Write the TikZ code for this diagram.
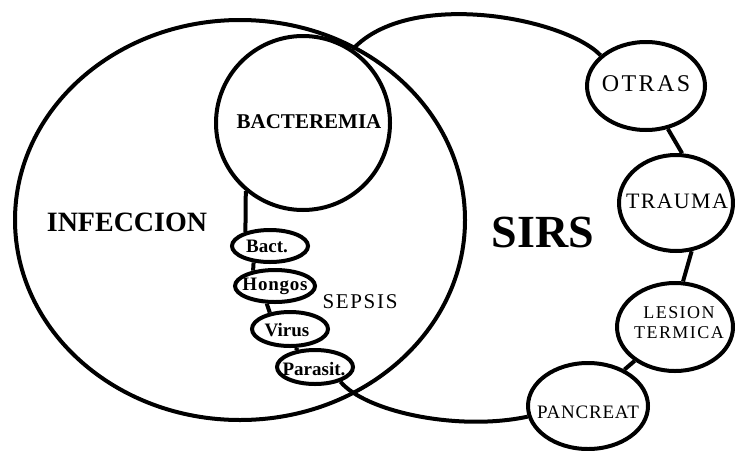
\documentclass[tikz,border=0pt]{standalone}
\usepackage{fontspec}
\setmainfont{Liberation Serif}
\newfontfamily\spcA[LetterSpace=6]{Liberation Serif}
\newfontfamily\spcB[LetterSpace=4]{Liberation Serif}
\newfontfamily\spcC[LetterSpace=8]{Liberation Serif}
\newfontfamily\spcD[LetterSpace=10]{Liberation Serif}
\newfontfamily\spcE[LetterSpace=8]{Liberation Serif}
\usetikzlibrary{shapes.geometric}
\tikzset{
  ln/.style={line width=4pt},
  oval/.style={draw, ellipse, line width=4pt, inner sep=0pt},
  smalllbl/.style={font=\bfseries\fontsize{19}{19}\selectfont, inner sep=0pt},
}
\begin{document}
\begin{tikzpicture}[x=1pt,y=-1pt]
\useasboundingbox (0,0) rectangle (735,450);
% INFECCION
\node[oval, minimum width=450pt, minimum height=400pt] (inf) at (240,220) {};
\node[font=\bfseries\fontsize{28}{28}\selectfont] (infT) at (127,222) {INFECCION};
% BACTEREMIA
\node[draw, circle, ln, minimum size=174pt, inner sep=0pt] (bac) at (303,123) {};
\node[font=\bfseries\fontsize{21}{21}\selectfont] (bacT) at (309,122) {BACTEREMIA};
% sepsis chain
\node[oval, minimum width=76pt, minimum height=32pt] (b1) at (270,246) {};
\node[smalllbl] (b1T) at (267,246) {Bact.};
\node[oval, minimum width=80pt, minimum height=32pt] (b2) at (275,286) {};
\node[smalllbl, font=\spcB\bfseries\fontsize{19}{19}\selectfont] (b2T) at (275,286) {Hongos};
\node[oval, minimum width=76pt, minimum height=34pt] (b3) at (290,329) {};
\node[smalllbl] (b3T) at (287,330) {Virus};
\node[oval, minimum width=76pt, minimum height=34pt] (b4) at (315,367) {};
\node[smalllbl] (b4T) at (314,369) {Parasit.};
\node[font=\spcC\fontsize{21}{21}\selectfont] (sepsis) at (360,302) {SEPSIS};
% SIRS
\node[font=\bfseries\fontsize{46}{46}\selectfont] (sirs) at (543,232) {SIRS};
\node[oval, minimum width=118pt, minimum height=88pt] (ot) at (646,86) {};
\node[font=\spcD\fontsize{24}{24}\selectfont] (otT) at (646,84) {OTRAS};
\node[oval, minimum width=114pt, minimum height=96pt] (tr) at (676,203) {};
\node[font=\spcA\fontsize{22}{22}\selectfont] (trT) at (677,201) {TRAUMA};
\node[oval, minimum width=116pt, minimum height=88pt] (les) at (675,327) {};
\node[font=\spcE\fontsize{18}{20}\selectfont, align=center] (lesT) at (679,323) {LESION\\TERMICA};
\node[oval, minimum width=120pt, minimum height=86pt] (pan) at (588,406) {};
\node[font=\spcB\fontsize{19}{19}\selectfont] (panT) at (588,412) {PANCREAT};
% connectors
\draw[ln] (bac.230) -- (b1.150);
\draw[ln] (b1.225) -- (b2.145);
\draw[ln] (b2.245) -- (b3.141);
\draw[ln] (b3.292) -- (b4.139);
\draw[ln] (b4.330) .. controls +(25,30) and +(-70,15) .. (pan.190);
\draw[ln] (pan.45) -- (les.220);
\draw[ln] (les.80) -- (tr.288);
\draw[ln] (tr.83) -- (ot.297);
\draw[ln] (ot.146) .. controls (565,18) and (410,-12) .. (bac.56);
\end{tikzpicture}
\end{document}
